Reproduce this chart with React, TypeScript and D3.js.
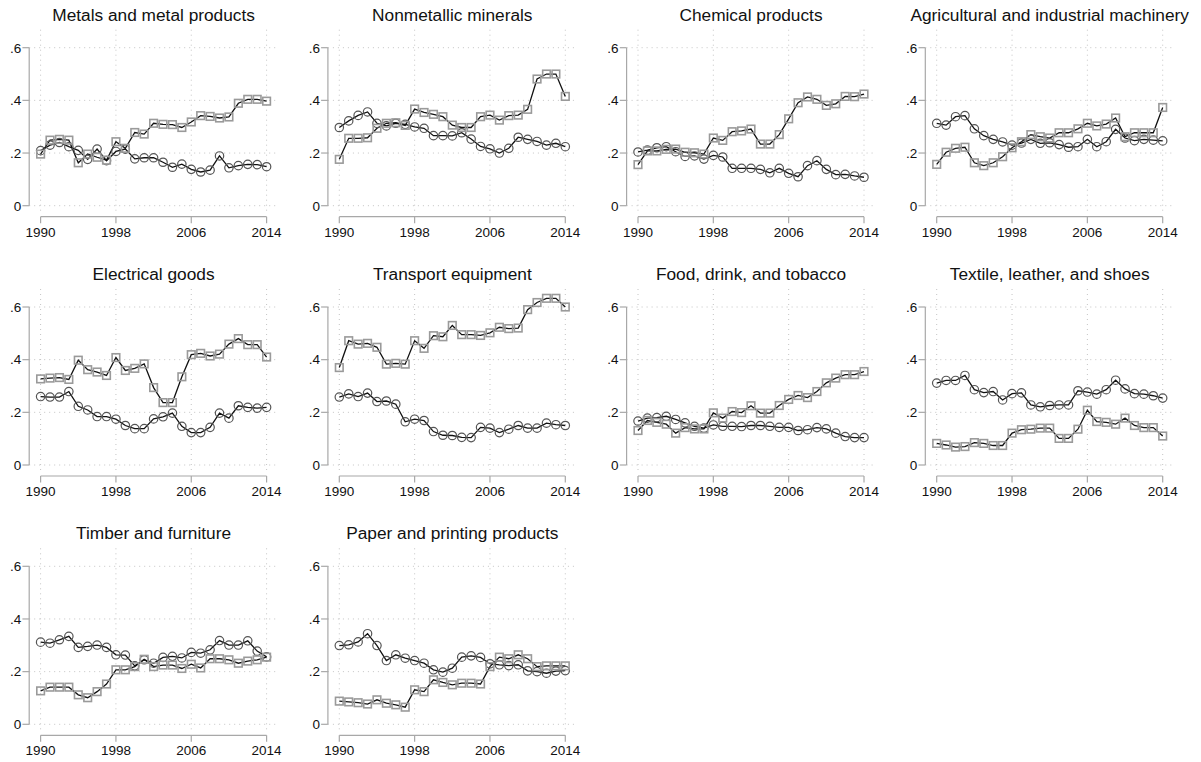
import React from 'react';
import * as d3 from 'd3';

const years = d3.range(1990, 2015);
const xTicks = [1990, 1998, 2006, 2014];
const yTicks = [0, 0.2, 0.4, 0.6];
const yTickLabels = ['0', '.2', '.4', '.6'];

const titles = [
  'Metals and metal products',
  'Nonmetallic minerals',
  'Chemical products',
  'Agricultural and industrial machinery',
  'Electrical goods',
  'Transport equipment',
  'Food, drink, and tobacco',
  'Textile, leather, and shoes',
  'Timber and furniture',
  'Paper and printing products',
];

// circle series (one per panel)
const metalsCircle = [0.209, 0.23, 0.24, 0.224, 0.21, 0.176, 0.215, 0.171, 0.206, 0.215, 0.178, 0.182, 0.182, 0.165, 0.146, 0.158, 0.138, 0.128, 0.135, 0.189, 0.144, 0.152, 0.157, 0.156, 0.148];
const nonmetalCircle = [0.297, 0.322, 0.343, 0.356, 0.313, 0.303, 0.313, 0.309, 0.299, 0.294, 0.266, 0.266, 0.265, 0.277, 0.253, 0.225, 0.216, 0.2, 0.218, 0.26, 0.252, 0.244, 0.23, 0.237, 0.224];
const chemicalCircle = [0.204, 0.211, 0.22, 0.224, 0.205, 0.187, 0.189, 0.177, 0.191, 0.185, 0.142, 0.142, 0.142, 0.138, 0.125, 0.142, 0.123, 0.11, 0.152, 0.171, 0.138, 0.118, 0.119, 0.113, 0.108];
const machineryCircle = [0.313, 0.306, 0.338, 0.342, 0.292, 0.266, 0.252, 0.242, 0.23, 0.238, 0.252, 0.237, 0.239, 0.232, 0.222, 0.224, 0.252, 0.224, 0.243, 0.29, 0.257, 0.247, 0.252, 0.249, 0.246];
const electricalCircle = [0.26, 0.258, 0.258, 0.279, 0.223, 0.209, 0.184, 0.184, 0.174, 0.15, 0.138, 0.138, 0.175, 0.183, 0.197, 0.147, 0.123, 0.123, 0.143, 0.197, 0.178, 0.225, 0.219, 0.216, 0.219];
const transportCircle = [0.258, 0.27, 0.26, 0.273, 0.241, 0.243, 0.231, 0.164, 0.174, 0.169, 0.127, 0.113, 0.112, 0.105, 0.104, 0.143, 0.14, 0.123, 0.136, 0.15, 0.14, 0.14, 0.159, 0.153, 0.15];
const foodCircle = [0.167, 0.178, 0.18, 0.185, 0.173, 0.16, 0.147, 0.14, 0.152, 0.147, 0.147, 0.146, 0.15, 0.15, 0.147, 0.143, 0.143, 0.131, 0.134, 0.142, 0.137, 0.121, 0.108, 0.104, 0.104];
const textileCircle = [0.311, 0.321, 0.321, 0.34, 0.286, 0.275, 0.279, 0.247, 0.271, 0.274, 0.228, 0.221, 0.226, 0.228, 0.228, 0.282, 0.277, 0.269, 0.286, 0.322, 0.289, 0.271, 0.269, 0.263, 0.254];
const timberCircle = [0.312, 0.308, 0.321, 0.334, 0.292, 0.296, 0.301, 0.292, 0.264, 0.263, 0.222, 0.245, 0.232, 0.254, 0.258, 0.252, 0.273, 0.27, 0.283, 0.318, 0.301, 0.301, 0.317, 0.278, 0.256];
const paperCircle = [0.299, 0.302, 0.313, 0.344, 0.299, 0.242, 0.264, 0.251, 0.242, 0.232, 0.207, 0.198, 0.213, 0.255, 0.26, 0.254, 0.23, 0.226, 0.223, 0.226, 0.203, 0.2, 0.194, 0.202, 0.204];

// square series (one per panel)
const metalsSquare = [0.196, 0.249, 0.252, 0.249, 0.163, 0.196, 0.184, 0.173, 0.243, 0.218, 0.278, 0.272, 0.313, 0.309, 0.308, 0.297, 0.318, 0.342, 0.339, 0.333, 0.337, 0.389, 0.404, 0.404, 0.397];
const nonmetalSquare = [0.176, 0.256, 0.256, 0.258, 0.294, 0.313, 0.315, 0.305, 0.367, 0.354, 0.347, 0.338, 0.306, 0.297, 0.297, 0.338, 0.344, 0.325, 0.342, 0.344, 0.366, 0.481, 0.5, 0.5, 0.415];
const chemicalSquare = [0.156, 0.208, 0.208, 0.214, 0.215, 0.203, 0.201, 0.196, 0.257, 0.248, 0.281, 0.284, 0.291, 0.234, 0.234, 0.27, 0.33, 0.391, 0.413, 0.404, 0.381, 0.387, 0.415, 0.414, 0.424];
const machinerySquare = [0.157, 0.203, 0.218, 0.222, 0.163, 0.152, 0.163, 0.186, 0.22, 0.243, 0.27, 0.262, 0.257, 0.277, 0.277, 0.292, 0.313, 0.303, 0.31, 0.333, 0.262, 0.277, 0.277, 0.277, 0.373];
const electricalSquare = [0.327, 0.33, 0.332, 0.325, 0.398, 0.362, 0.353, 0.34, 0.408, 0.359, 0.367, 0.384, 0.294, 0.237, 0.237, 0.335, 0.419, 0.424, 0.414, 0.421, 0.459, 0.48, 0.457, 0.457, 0.41];
const transportSquare = [0.37, 0.472, 0.459, 0.462, 0.447, 0.383, 0.386, 0.383, 0.472, 0.443, 0.491, 0.487, 0.53, 0.495, 0.495, 0.492, 0.502, 0.523, 0.518, 0.52, 0.59, 0.617, 0.633, 0.633, 0.6];
const foodSquare = [0.131, 0.169, 0.162, 0.155, 0.121, 0.142, 0.137, 0.137, 0.198, 0.178, 0.203, 0.199, 0.225, 0.197, 0.197, 0.226, 0.249, 0.264, 0.256, 0.279, 0.312, 0.33, 0.343, 0.343, 0.355];
const textileSquare = [0.082, 0.076, 0.068, 0.07, 0.085, 0.082, 0.074, 0.074, 0.121, 0.134, 0.136, 0.14, 0.14, 0.101, 0.101, 0.136, 0.208, 0.165, 0.162, 0.155, 0.178, 0.15, 0.142, 0.142, 0.11];
const timberSquare = [0.127, 0.141, 0.141, 0.141, 0.112, 0.101, 0.124, 0.153, 0.207, 0.207, 0.219, 0.247, 0.219, 0.225, 0.225, 0.212, 0.228, 0.214, 0.249, 0.249, 0.245, 0.232, 0.24, 0.245, 0.255];
const paperSquare = [0.088, 0.085, 0.082, 0.077, 0.093, 0.08, 0.074, 0.065, 0.131, 0.124, 0.169, 0.159, 0.15, 0.156, 0.156, 0.153, 0.219, 0.255, 0.249, 0.264, 0.249, 0.219, 0.222, 0.222, 0.222];

const circleSeries = [metalsCircle, nonmetalCircle, chemicalCircle, machineryCircle, electricalCircle, transportCircle, foodCircle, textileCircle, timberCircle, paperCircle];
const squareSeries = [metalsSquare, nonmetalSquare, chemicalSquare, machinerySquare, electricalSquare, transportSquare, foodSquare, textileSquare, timberSquare, paperSquare];

const W = 1201, H = 762;
const FONT = '"Liberation Sans", Arial, Helvetica, sans-serif';
const colStep = 298.7, rowStep = 259.3;
const plotW = 226, plotH = 158;

const Panel = ({ idx }: { idx: number }) => {
  const col = idx % 4, row = Math.floor(idx / 4);
  const left = 40.6 + col * colStep;
  const bottom = 205.7 + row * rowStep;

  const x = d3.scaleLinear().domain([1990, 2014]).range([left, left + plotW]);
  const y = d3.scaleLinear().domain([0, 0.6]).range([bottom, bottom - plotH]);
  const axisX = left - 11.4;
  const gridRight = x(2014) + 11;
  const gridTop = bottom - 176;
  const gridBottom = bottom + 7;
  const xAxisY = bottom + 11;

  const line = d3.line<number>().x((_, i) => x(years[i])).y(d => y(d));
  const circ = circleSeries[idx];
  const sq = squareSeries[idx];

  return (
    <g>
      <text x={(x(1990) + x(2014)) / 2} y={bottom - 185} textAnchor="middle"
        fontSize={17.3} fontFamily={FONT} fill="#111">{titles[idx]}</text>

      {/* grid */}
      {yTicks.map(t => (
        <line key={'h' + t} x1={axisX} x2={gridRight} y1={y(t)} y2={y(t)}
          stroke="#c4c4c4" strokeWidth={1} strokeDasharray="1,4" />
      ))}
      {xTicks.map(t => (
        <line key={'v' + t} x1={x(t)} x2={x(t)} y1={gridTop} y2={gridBottom}
          stroke="#c4c4c4" strokeWidth={1} strokeDasharray="1,4" />
      ))}

      {/* y axis */}
      <line x1={axisX} x2={axisX} y1={y(0.6)} y2={y(0)} stroke="#a8a8a8" strokeWidth={1.2} />
      {yTicks.map((t, i) => (
        <g key={'yt' + t}>
          <line x1={axisX - 6.8} x2={axisX} y1={y(t)} y2={y(t)} stroke="#a8a8a8" strokeWidth={1.2} />
          <text x={axisX - 8} y={y(t) + 4.8} textAnchor="end" fontSize={13.5}
            fontFamily={FONT} fill="#111">{yTickLabels[i]}</text>
        </g>
      ))}

      {/* x axis */}
      <line x1={x(1990)} x2={x(2014)} y1={xAxisY} y2={xAxisY} stroke="#a8a8a8" strokeWidth={1.2} />
      {xTicks.map(t => (
        <g key={'xt' + t}>
          <line x1={x(t)} x2={x(t)} y1={xAxisY} y2={xAxisY + 6.5} stroke="#a8a8a8" strokeWidth={1.2} />
          <text x={x(t)} y={bottom + 31} textAnchor="middle" fontSize={13.5}
            fontFamily={FONT} fill="#111">{t}</text>
        </g>
      ))}

      {/* series */}
      <path d={line(circ) || ''} fill="none" stroke="#111" strokeWidth={1.3} />
      <path d={line(sq) || ''} fill="none" stroke="#111" strokeWidth={1.3} />
      {circ.map((v, i) => (
        <circle key={'c' + i} cx={x(years[i])} cy={y(v)} r={4.2}
          fill="none" stroke="#555" strokeWidth={1.2} />
      ))}
      {sq.map((v, i) => (
        <rect key={'s' + i} x={x(years[i]) - 3.8} y={y(v) - 3.8} width={7.6} height={7.6}
          fill="none" stroke="#9a9a9a" strokeWidth={1.6} />
      ))}
    </g>
  );
};

export default function App() {
  return (
    <svg width={W} height={H} style={{ position: 'absolute', left: 0, top: 0, background: '#fff' }}>
      <rect width={W} height={H} fill="#fff" />
      {titles.map((_, i) => <Panel key={i} idx={i} />)}
    </svg>
  );
}
